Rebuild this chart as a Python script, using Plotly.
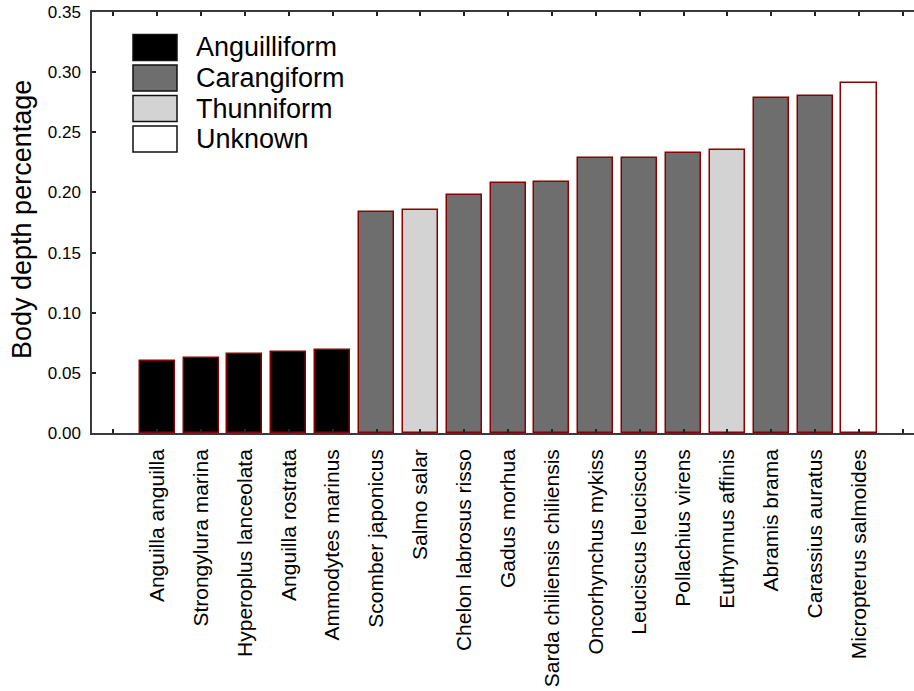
import plotly.graph_objects as go

# Body depth (as a fraction of body length) per species, sorted ascending
species = [
    "Anguilla anguilla", "Strongylura marina", "Hyperoplus lanceolata",
    "Anguilla rostrata", "Ammodytes marinus", "Scomber japonicus",
    "Salmo salar", "Chelon labrosus risso", "Gadus morhua",
    "Sarda chiliensis chiliensis", "Oncorhynchus mykiss", "Leuciscus leuciscus",
    "Pollachius virens", "Euthynnus affinis", "Abramis brama",
    "Carassius auratus", "Micropterus salmoides",
]
body_depth = [
    0.0595, 0.0620, 0.0660, 0.0675, 0.0690, 0.1840,
    0.1855, 0.1980, 0.2080, 0.2090, 0.2285, 0.2285,
    0.2330, 0.2355, 0.2785, 0.2800, 0.2910,
]
swimming_mode = [
    "Anguilliform", "Anguilliform", "Anguilliform", "Anguilliform", "Anguilliform",
    "Carangiform", "Thunniform", "Carangiform", "Carangiform", "Carangiform",
    "Carangiform", "Carangiform", "Carangiform", "Thunniform", "Carangiform",
    "Carangiform", "Unknown",
]
legend_modes = ["Anguilliform", "Carangiform", "Thunniform", "Unknown"]
mode_colors = {
    "Anguilliform": "#000000",
    "Carangiform": "#6e6e6e",
    "Thunniform": "#d3d3d3",
    "Unknown": "#ffffff",
}
y_ticks = [0.00, 0.05, 0.10, 0.15, 0.20, 0.25, 0.30, 0.35]

W, H = 914, 691
L, R, T, B = 92, 0, 12, 258
plot_w = W - L - R
plot_h = H - T - B


def paper_x(px):
    return (px - L) / plot_w


def paper_y(py):
    return (H - B - py) / plot_h


positions = list(range(len(species)))

fig = go.Figure()
fig.add_trace(go.Bar(
    x=positions,
    y=body_depth,
    width=0.80,
    marker=dict(
        color=[mode_colors[m] for m in swimming_mode],
        line=dict(color="#8b0000", width=1.5),
    ),
    showlegend=False,
    hoverinfo="skip",
))

axis_font = dict(family="Liberation Sans, Arial, sans-serif", color="#000000")

# Category ticks include an empty slot on either side of the bars
tick_pos = [-1] + positions + [len(species)]
tick_txt = [""] + species + [""]

fig.update_xaxes(
    range=[-1.487, 17.255],
    tickmode="array",
    tickvals=tick_pos,
    ticktext=tick_txt,
    tickangle=-90,
    tickfont=dict(size=21, **axis_font),
    ticks="inside",
    ticklen=4,
    tickwidth=1.5,
    tickcolor="#222222",
    showline=True,
    linecolor="#3a3a3a",
    linewidth=1.5,
    mirror="allticks",
    showgrid=False,
    zeroline=False,
    ticklabelstandoff=6,
)
fig.update_yaxes(
    range=[0, 0.35],
    tickmode="array",
    tickvals=y_ticks,
    ticktext=[f"{v:.2f}" for v in y_ticks],
    tickfont=dict(size=17, **axis_font),
    ticks="inside",
    ticklen=4,
    tickwidth=1.5,
    tickcolor="#222222",
    showline=True,
    linecolor="#3a3a3a",
    linewidth=1.5,
    mirror=False,
    showgrid=False,
    zeroline=False,
    ticklabelstandoff=6,
)

annotations = [dict(
    text="Body depth percentage",
    xref="paper", yref="paper",
    x=paper_x(22), y=paper_y(220),
    xanchor="center", yanchor="middle",
    textangle=-90, showarrow=False,
    font=dict(size=27, **axis_font),
)]

# Swimming-mode key: filled boxes with labels, top-left of the plot
shapes = []
box_x0, box_x1 = 133, 177
box_top, box_h, step = 34.5, 26, 30.5
for i, mode in enumerate(legend_modes):
    y0 = box_top + i * step
    shapes.append(dict(
        type="rect", xref="paper", yref="paper",
        x0=paper_x(box_x0), x1=paper_x(box_x1),
        y0=paper_y(y0 + box_h), y1=paper_y(y0),
        fillcolor=mode_colors[mode],
        line=dict(color="#111111", width=1.5),
    ))
    annotations.append(dict(
        text=mode, xref="paper", yref="paper",
        x=paper_x(194), y=paper_y(y0 + box_h / 2),
        xanchor="left", yanchor="middle", showarrow=False,
        font=dict(size=27, **axis_font),
    ))

fig.update_layout(
    width=W, height=H,
    margin=dict(l=L, r=R, t=T, b=B, pad=0),
    plot_bgcolor="#ffffff",
    paper_bgcolor="#ffffff",
    shapes=shapes,
    annotations=annotations,
    bargap=0,
)

fig.write_html("out.html", config={"displayModeBar": False})
